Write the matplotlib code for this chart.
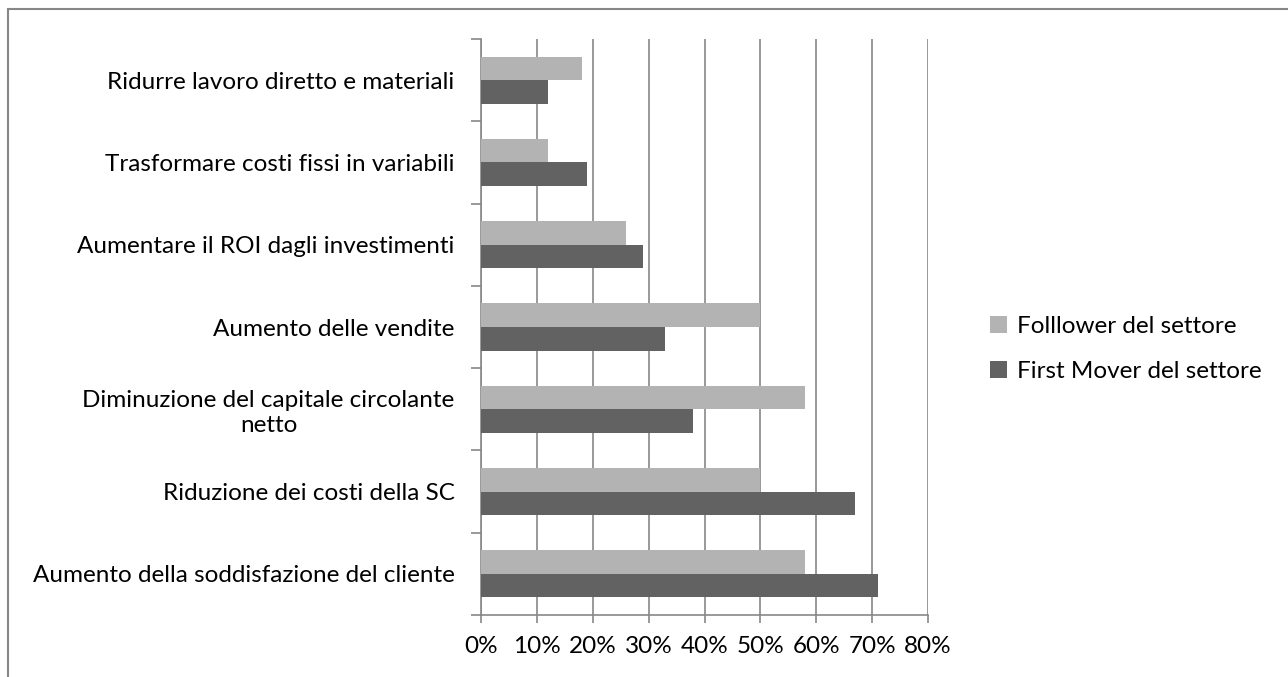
import matplotlib.pyplot as plt
import matplotlib.patches as mpatches
from matplotlib.ticker import FixedLocator, PercentFormatter
import numpy as np

# categorie (dal basso verso l'alto, come in Excel)
categorie = [
    "Aumento della soddisfazione del cliente",
    "Riduzione dei costi della SC",
    "Diminuzione del capitale circolante\nnetto",
    "Aumento delle vendite",
    "Aumentare il ROI dagli investimenti",
    "Trasformare costi fissi in variabili",
    "Ridurre lavoro diretto e materiali",
]
follower = [58, 50, 58, 50, 26, 12, 18]
first_mover = [71, 67, 38, 33, 29, 19, 12]
x_ticks = [0, 10, 20, 30, 40, 50, 60, 70, 80]

col_follower = "#b3b3b3"
col_first = "#626262"
col_grid = "#878787"

plt.rcParams['font.family'] = ['Lato', 'DejaVu Sans']
fs = 17.5

fig = plt.figure(figsize=(12.88, 6.77), dpi=100)
ax = fig.add_axes([481 / 1288, 62 / 677, 447 / 1288, 576 / 677])

y = np.arange(len(categorie))
h = 1 / 3.5
ax.barh(y + h / 2, follower, height=h, color=col_follower, label="Folllower del settore", zorder=3)
ax.barh(y - h / 2, first_mover, height=h, color=col_first, label="First Mover del settore", zorder=3)

ax.set_xlim(0, 80)
ax.set_ylim(-0.5, len(categorie) - 0.5)
ax.xaxis.set_major_locator(FixedLocator(x_ticks))
ax.xaxis.set_major_formatter(PercentFormatter(decimals=0))
ax.grid(axis='x', color=col_grid, lw=1.2, zorder=0)

ax.set_yticks(y)
ax.set_yticklabels(categorie, fontsize=fs, multialignment='center')
ax.set_yticks(np.arange(-0.5, len(categorie)), minor=True)
ax.tick_params(axis='y', which='major', length=0, pad=19)
ax.tick_params(axis='y', which='minor', length=7, width=1.2, color=col_grid)
ax.tick_params(axis='x', length=6, width=1.2, color=col_grid, labelsize=fs, pad=9)

for s in ['top', 'right']:
    ax.spines[s].set_visible(False)
for s in ['left', 'bottom']:
    ax.spines[s].set_color(col_grid)
    ax.spines[s].set_linewidth(1.2)

# cornice esterna del grafico
fig.patches.append(mpatches.Rectangle((7.5 / 1288, -0.1), 1.2, 1.1 - 9 / 677, transform=fig.transFigure,
                                      fill=False, edgecolor=col_grid, lw=1.5))

fig.legend(loc='center left', bbox_to_anchor=(968 / 1288, 1 - 349 / 677), frameon=False,
           fontsize=fs, handlelength=0.7, handleheight=0.7, handletextpad=0.4,
           labelspacing=1.0)

fig.savefig("out.png", dpi=100)
